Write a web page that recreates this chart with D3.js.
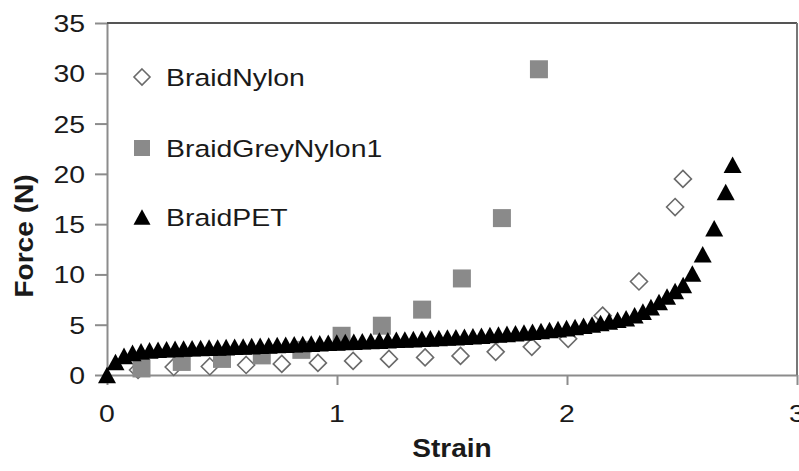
<!DOCTYPE html>
<html>
<head>
<meta charset="utf-8">
<script src="https://cdn.jsdelivr.net/npm/d3@7"></script>
<style>
  body { margin: 0; background: #fff; }
  text { font-family: "Liberation Sans", Arial, sans-serif; fill: #1a1a1a; }
</style>
</head>
<body>
<div id="chart"></div>
<script>
var svgWidth = 799;
var svgHeight = 471;

// BraidNylon (open diamonds)
var nylonStrain = [0.135, 0.29, 0.447, 0.605, 0.76, 0.917, 1.07, 1.226, 1.383, 1.537, 1.69, 1.847, 2.005, 2.155, 2.313, 2.47, 2.504];
var nylonForce  = [0.5, 0.8, 0.85, 1.0, 1.1, 1.2, 1.4, 1.6, 1.75, 1.9, 2.3, 2.8, 3.6, 5.9, 9.3, 16.7, 19.5];

// BraidGreyNylon1 (grey squares)
var greyStrain = [0.15, 0.325, 0.5, 0.673, 0.845, 1.02, 1.195, 1.37, 1.543, 1.717, 1.878];
var greyForce  = [0.65, 1.3, 1.6, 1.95, 2.5, 3.9, 4.9, 6.5, 9.6, 15.6, 30.4];

// BraidPET (black triangles)
var petStrain = [0, 0.037, 0.074, 0.111, 0.148, 0.185, 0.222, 0.259, 0.296, 0.333,
  0.37, 0.407, 0.444, 0.481, 0.518, 0.555, 0.592, 0.629, 0.666, 0.703,
  0.74, 0.777, 0.814, 0.851, 0.888, 0.925, 0.962, 0.999, 1.036, 1.073,
  1.11, 1.147, 1.184, 1.221, 1.258, 1.295, 1.332, 1.369, 1.406, 1.443,
  1.48, 1.517, 1.554, 1.591, 1.628, 1.665, 1.702, 1.739, 1.776, 1.813,
  1.85, 1.887, 1.924, 1.961, 1.998, 2.035, 2.072, 2.109, 2.146, 2.183,
  2.22, 2.257, 2.294, 2.33, 2.365, 2.4, 2.435, 2.47, 2.505, 2.545,
  2.59, 2.64, 2.69, 2.72];
var petForce = [0, 1.3, 1.9, 2.2, 2.35, 2.45, 2.52, 2.56, 2.6, 2.63,
  2.66, 2.69, 2.72, 2.74, 2.77, 2.8, 2.84, 2.87, 2.91, 2.94,
  2.98, 3.01, 3.05, 3.08, 3.12, 3.16, 3.2, 3.24, 3.28, 3.31,
  3.35, 3.39, 3.42, 3.46, 3.5, 3.53, 3.57, 3.6, 3.64, 3.68,
  3.72, 3.76, 3.81, 3.86, 3.91, 3.97, 4.03, 4.09, 4.15, 4.22,
  4.3, 4.38, 4.47, 4.56, 4.66, 4.77, 4.89, 5.02, 5.17, 5.33,
  5.5, 5.65, 5.95, 6.3, 6.75, 7.25, 7.8, 8.35, 8.95, 10.1,
  12.0, 14.6, 18.2, 20.9];

var xTicks = [0, 1, 2, 3];
var yTicks = [0, 5, 10, 15, 20, 25, 30, 35];
var seriesNames = ["BraidNylon", "BraidGreyNylon1", "BraidPET"];

var plot = { left: 107, right: 797, top: 23, bottom: 375 };

var svg = d3.select("#chart")
  .append("svg")
  .attr("width", svgWidth)
  .attr("height", svgHeight);

var xScale = d3.scaleLinear().domain([0, 3]).range([plot.left, plot.right]);
var yScale = d3.scaleLinear().domain([0, 35]).range([plot.bottom, plot.top]);

// markers centred on their bounding box, like the spreadsheet ones
var triangleShape = {
  draw: function (ctx, size) {
    var w = Math.sqrt(size), h = w * 0.92;
    ctx.moveTo(0, -h / 2);
    ctx.lineTo(w / 2, h / 2);
    ctx.lineTo(-w / 2, h / 2);
    ctx.closePath();
  }
};
var diamondShape = {
  draw: function (ctx, size) {
    var r = Math.sqrt(size) / 2;
    ctx.moveTo(0, -r);
    ctx.lineTo(r, 0);
    ctx.lineTo(0, r);
    ctx.lineTo(-r, 0);
    ctx.closePath();
  }
};
var squareShape = {
  draw: function (ctx, size) {
    var r = Math.sqrt(size) / 2;
    ctx.rect(-r, -r, 2 * r, 2 * r);
  }
};

function zip(xs, ys) {
  return xs.map((x, i) => ({ x: x, y: ys[i] }));
}

// stretched text helper (the figure's lettering is wide)
function addText(x, y, str, size, weight, sx, anchor, rotate) {
  return svg.append("text")
    .attr("transform", `translate(${x},${y})` + (rotate ? ` rotate(${rotate})` : "") + ` scale(${sx},1)`)
    .attr("text-anchor", anchor)
    .style("font-size", size + "px")
    .style("font-weight", weight)
    .text(str);
}

// axes
var leftAxis = d3.axisLeft(yScale).tickValues(yTicks).tickSize(12).tickSizeOuter(0).tickFormat("");
var bottomAxis = d3.axisBottom(xScale).tickValues(xTicks).tickSize(10).tickSizeOuter(0).tickFormat("");

var yAxisG = svg.append("g")
  .attr("transform", `translate(${plot.left},0)`)
  .call(leftAxis);
var xAxisG = svg.append("g")
  .attr("transform", `translate(0,${plot.bottom})`)
  .call(bottomAxis);

[yAxisG, xAxisG].forEach(g => {
  g.selectAll("path, line").attr("stroke", "#8c8c8c").attr("stroke-width", 2);
});

// frame top and right
svg.append("line")
  .attr("x1", plot.left).attr("x2", plot.right)
  .attr("y1", plot.top).attr("y2", plot.top)
  .attr("stroke", "#555").attr("stroke-width", 2);
svg.append("line")
  .attr("x1", plot.right).attr("x2", plot.right)
  .attr("y1", plot.top).attr("y2", plot.bottom)
  .attr("stroke", "#777").attr("stroke-width", 2);

// tick labels
yTicks.forEach(t => {
  addText(85, yScale(t) + 9, t, 24.5, "normal", 1.16, "end");
});
xTicks.forEach(t => {
  addText(xScale(t), 422, t, 24.5, "normal", 1.16, "middle");
});

// axis titles
addText(452, 457, "Strain", 26, "bold", 1.08, "middle");
addText(33, 236, "Force (N)", 26, "bold", 1.08, "middle", -90);

// data
var nylonData = zip(nylonStrain, nylonForce);
var greyData = zip(greyStrain, greyForce);
var petData = zip(petStrain, petForce);

svg.append("g").selectAll("path")
  .data(nylonData)
  .enter()
  .append("path")
  .attr("transform", d => `translate(${xScale(d.x)},${yScale(d.y)})`)
  .attr("d", d3.symbol().type(diamondShape).size(17 * 17))
  .attr("fill", "#fff")
  .attr("stroke", "#6a6a6a")
  .attr("stroke-width", 1.6);

svg.append("g").selectAll("path")
  .data(greyData)
  .enter()
  .append("path")
  .attr("transform", d => `translate(${xScale(d.x)},${yScale(d.y)})`)
  .attr("d", d3.symbol().type(squareShape).size(18 * 18))
  .attr("fill", "#8a8a8a");

svg.append("g").selectAll("path")
  .data(petData)
  .enter()
  .append("path")
  .attr("transform", d => `translate(${xScale(d.x)},${yScale(d.y)})`)
  .attr("d", d3.symbol().type(triangleShape).size(18 * 18))
  .attr("fill", "#000");

// legend
var legendY = [77, 148, 217];
var legendShapes = [diamondShape, squareShape, triangleShape];
var legendSizes = [16 * 16, 16 * 16, 17 * 17];
seriesNames.forEach((name, i) => {
  var m = svg.append("path")
    .attr("transform", `translate(142,${legendY[i]})`)
    .attr("d", d3.symbol().type(legendShapes[i]).size(legendSizes[i]));
  if (i === 0) {
    m.attr("fill", "#fff").attr("stroke", "#6a6a6a").attr("stroke-width", 1.6);
  } else if (i === 1) {
    m.attr("fill", "#8a8a8a");
  } else {
    m.attr("fill", "#000");
  }
  addText(166, legendY[i] + 9, name, 24.5, "normal", 1.16, "start");
});
</script>
</body>
</html>
